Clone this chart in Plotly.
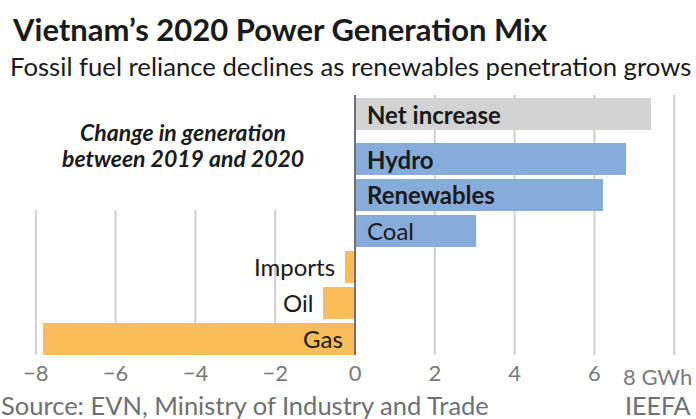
import plotly.graph_objects as go

categories = ["Gas", "Oil", "Imports", "Coal", "Renewables", "Hydro", "Net increase"]
values = [-7.82, -0.8, -0.25, 3.03, 6.22, 6.79, 7.42]
bar_colors = ["#fbbd58", "#fbbd58", "#fbbd58", "#86acdc", "#86acdc", "#86acdc", "#d3d3d3"]
bold_labels = ["Net increase", "Hydro", "Renewables"]
tick_vals = [-8, -6, -4, -2, 0, 2, 4, 6, 8]
tick_text = ["\u22128", "\u22126", "\u22124", "\u22122", "0", "2", "4", "6", ""]
last_tick_label = "8 GWh"

FONT = "Lato"
TXT = "#1a1a1a"
GREY_TXT = "#7a7a7a"

# plot area geometry (pixels)
W, H = 696, 419
T, B = 95, 64
PH = H - T - B


def py(pix):
    """pixel row -> paper y"""
    return (H - B - pix) / PH


# vertical positions: uniform spacing with extra gap before the total bar
ypos = [i + (0.25 if c == "Net increase" else 0) for i, c in enumerate(categories)]

fig = go.Figure()
fig.add_trace(go.Bar(
    x=values, y=ypos, orientation="h", marker=dict(color=bar_colors, line=dict(width=0)),
    width=0.89, hoverinfo="skip", showlegend=False,
))

shapes = []
for t in tick_vals:
    if t == 0:
        continue
    y1 = 6.78 if t > 0 else 3.58
    shapes.append(dict(type="line", xref="x", yref="y", x0=t, x1=t, y0=-0.45, y1=y1,
                       line=dict(color="#cfcfcf", width=2), layer="below"))
shapes.append(dict(type="line", xref="x", yref="y", x0=0, x1=0, y0=-0.45, y1=6.78,
                   line=dict(color="#6e7078", width=2), layer="above"))

annotations = []
for c, v, y in zip(categories, values, ypos):
    label = f"<b>{c}</b>" if c in bold_labels else c
    f = dict(family=FONT, size=24, color=TXT)
    if v > 0:
        annotations.append(dict(x=0, y=y, xref="x", yref="y", text=label, showarrow=False,
                                xanchor="left", xshift=10, font=f))
    elif v < -2:
        annotations.append(dict(x=0, y=y, xref="x", yref="y", text=label, showarrow=False,
                                xanchor="right", xshift=-10, font=f))
    else:
        annotations.append(dict(x=v, y=y, xref="x", yref="y", text=label, showarrow=False,
                                xanchor="right", xshift=-8, font=f))

annotations.append(dict(x=1, y=py(376), xref="paper", yref="paper", xanchor="right", yanchor="middle",
                        showarrow=False, text=last_tick_label, xshift=-2,
                        font=dict(family=FONT, size=22, color=GREY_TXT)))
for line, pix in [("Change in generation", 132), ("between 2019 and 2020", 158)]:
    annotations.append(dict(x=-4.3, y=py(pix), xref="x", yref="paper", showarrow=False,
                            yanchor="middle", text=f"<b><i>{line}</i></b>",
                            font=dict(family=FONT, size=23, color=TXT)))
annotations.append(dict(x=0, y=py(405), xref="paper", yref="paper", xanchor="left", yanchor="middle",
                        showarrow=False, text="Source: EVN, Ministry of Industry and Trade", xshift=-1,
                        font=dict(family=FONT, size=25.5, color="#6f6f6f")))
annotations.append(dict(x=1, y=py(405), xref="paper", yref="paper", xanchor="right", yanchor="middle",
                        showarrow=False, text="IEEFA", xshift=-3,
                        font=dict(family=FONT, size=25, color="#6f6f6f")))
annotations.append(dict(x=0, y=py(29), xref="paper", yref="paper", xanchor="left", yanchor="middle",
                        showarrow=False, text="<b>Vietnam\u2019s 2020 Power Generation Mix</b>", xshift=10,
                        font=dict(family=FONT, size=31, color=TXT)))
annotations.append(dict(x=0, y=py(66), xref="paper", yref="paper", xanchor="left", yanchor="middle",
                        showarrow=False, text="Fossil fuel reliance declines as renewables penetration grows",
                        xshift=8, font=dict(family=FONT, size=25.7, color=TXT)))

fig.update_layout(
    width=W, height=H,
    margin=dict(l=0, r=0, t=T, b=B),
    paper_bgcolor="white", plot_bgcolor="white",
    xaxis=dict(range=[-355 / 39.9, 341 / 39.9], tickvals=tick_vals, ticktext=tick_text,
               showgrid=False, zeroline=False, showline=False, ticks="", automargin=False,
               ticklabelstandoff=3, tickfont=dict(family=FONT, size=22, color=GREY_TXT)),
    yaxis=dict(range=[-0.45, 6.78], showticklabels=False, showgrid=False, zeroline=False,
               showline=False, automargin=False),
    shapes=shapes, annotations=annotations, bargap=0,
)

fig.write_html("out.html", config={"displayModeBar": False},
               post_script="document.body.style.margin='0px';document.body.style.overflow='hidden';")
